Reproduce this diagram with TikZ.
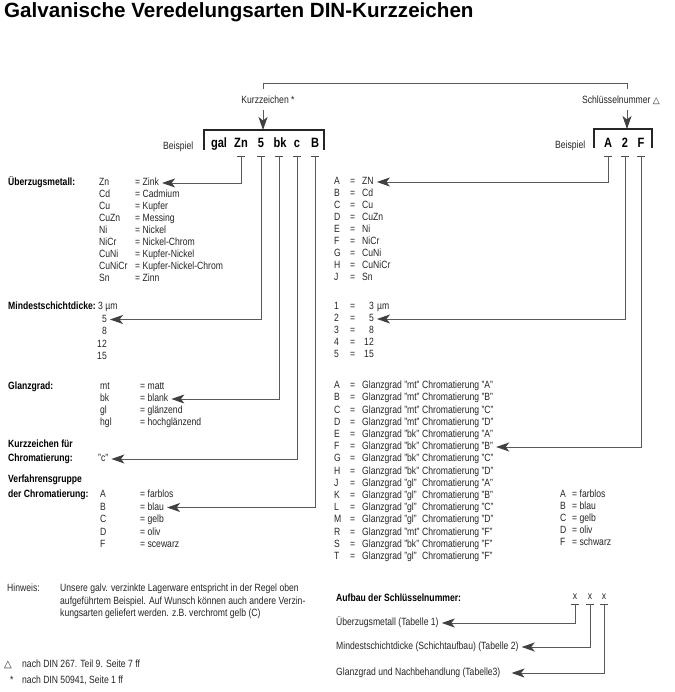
\documentclass[tikz,border=0pt]{standalone}
\usepackage{fontspec}
\setmainfont{Liberation Sans}[FakeStretch=0.82]
\newfontfamily\titlefont{Liberation Sans}
\newfontfamily\symfont{DejaVu Sans}
\usetikzlibrary{arrows.meta}
\newcommand{\fs}{\fontsize{10.5}{12}\selectfont}
\tikzset{
  txt/.style={anchor=west, inner sep=0pt, font=\fs, text=black!85, text height=7.5pt, text depth=2pt},
  lbl/.style={txt, font=\fs\bfseries, text=black},
  code/.style={anchor=base, inner sep=0pt, font=\fontsize{13.5}{15}\selectfont\bfseries, text=black},
  conn/.style={draw=black!65, line width=0.9pt},
  arr/.style={conn, -{Stealth[length=13pt,width=9pt,inset=3.5pt,color=black!75]}, shorten >=3pt},
  brk/.style={draw=black!85, line width=1.7pt},
  tick/.style={draw=black!70, line width=0.8pt}
}
\begin{document}
\begin{tikzpicture}[x=1pt,y=-1pt]
\useasboundingbox[fill=white] (0,0) rectangle (674,692);

% title
\node[anchor=base west, inner sep=0pt, font=\titlefont\bfseries\fontsize{20.6}{24}\selectfont] (title) at (4,18) {Galvanische Veredelungsarten DIN-Kurzzeichen};

% top captions
\node[txt, anchor=center] (kz) at (268,101) {Kurzzeichen *};
\node[txt, anchor=center] (sn) at (621,101) {Schlüsselnummer {\symfont\fontsize{9}{10}\selectfont △}};
\coordinate (kzt) at (263,89);
\coordinate (snt) at (627,89);
\draw[conn] (kzt) -- ++(0,-6) -| (snt);
\coordinate (kzb) at (263,110);
\coordinate (snb) at (627,110);
\coordinate (lbt) at (263,130);
\coordinate (rbt) at (627,129);
\draw[arr, shorten >=0pt] (kzb) -- (lbt);
\draw[arr, shorten >=0pt] (snb) -- (rbt);

% brackets
\draw[brk] (204,150) -- (204,130) -- (324,130) -- (324,150);
\draw[brk] (594,148) -- (594,129) -- (652,129) -- (652,148);

\node[txt] (bsl) at (163,147) {Beispiel};
\node[txt] (bsr) at (555,146) {Beispiel};

% example codes
\node[code] (cgal) at (219,148) {gal};
\node[code] (cZn) at (241,148) {Zn};
\node[code] (c5) at (261,148) {5};
\node[code] (cbk) at (280,148) {bk};
\node[code] (cc) at (297,148) {c};
\node[code] (cB) at (315,148) {B};
\node[code] (cA) at (608,148) {A};
\node[code] (c2) at (625,148) {2};
\node[code] (cF) at (641,148) {F};

\foreach \n/\x in {Zn/241,5/261,bk/279,c/297,B/315,A/608,2/625,F/641}{
  \coordinate (t\n) at (\x,156);
  \draw[tick] (\x-4,156) -- (\x+4,156);
}

% ---------- left tables ----------
\node[lbl] (lUm) at (8,183) {Überzugsmetall:};
\foreach \c/\v [count=\i from 0] in {Zn/Zink,Cd/Cadmium,Cu/Kupfer,CuZn/Messing,Ni/Nickel,NiCr/Nickel-Chrom,CuNi/Kupfer-Nickel,CuNiCr/Kupfer-Nickel-Chrom,Sn/Zinn}{
  \node[txt] (lm\i) at (99,{183+12*\i}) {\c};
  \node[txt] (lmv\i) at (135,{183+12*\i}) {= \v};
}

\node[lbl] (lMs) at (8,307) {Mindestschichtdicke:};
\node[txt] (ld0) at (98,307) {3 µm};
\foreach \v [count=\i] in {5,8,12,15}{
  \node[txt, anchor=east] (ld\i) at (107,{307+12.5*\i}) {\v};
}

\node[lbl] (lGg) at (8,387) {Glanzgrad:};
\foreach \c/\v [count=\i from 0] in {mt/matt,bk/blank,gl/glänzend,hgl/hochglänzend}{
  \node[txt] (lg\i) at (100,{387+12*\i}) {\c};
  \node[txt] (lgv\i) at (140,{387+12*\i}) {= \v};
}

\node[lbl] (lKz1) at (8,445) {Kurzzeichen für};
\node[lbl] (lKz2) at (8,459) {Chromatierung:};
\node[txt] (lkc) at (98,459) {"c"};

\node[lbl] (lVg1) at (8,480) {Verfahrensgruppe};
\node[lbl] (lVg2) at (8,495) {der Chromatierung:};
\foreach \c/\v [count=\i from 0] in {A/farblos,B/blau,C/gelb,D/oliv,F/scewarz}{
  \node[txt] (lv\i) at (100,{495+12.5*\i}) {\c};
  \node[txt] (lvv\i) at (140,{495+12.5*\i}) {= \v};
}

% ---------- right tables ----------
\foreach \c/\v [count=\i from 0] in {A/ZN,B/Cd,C/Cu,D/CuZn,E/Ni,F/NiCr,G/CuNi,H/CuNiCr,J/Sn}{
  \node[txt] (rm\i) at (334,{182+12*\i}) {\c};
  \node[txt] (rme\i) at (350,{182+12*\i}) {=};
  \node[txt] (rmv\i) at (362,{182+12*\i}) {\v};
}

\node[txt] (rn0) at (334,307) {1};
\node[txt] (rne0) at (350,307) {=};
\node[txt, anchor=east] (rnv0) at (374,307) {3};
\node[txt] (rnu0) at (377,307) {µm};
\foreach \v [count=\i] in {5,8,12,15}{
  \pgfmathtruncatemacro{\k}{\i+1}
  \node[txt] (rn\i) at (334,{307+12*\i}) {\k};
  \node[txt] (rne\i) at (350,{307+12*\i}) {=};
  \node[txt, anchor=east] (rnv\i) at (374,{307+12*\i}) {\v};
}

\foreach \c/\g/\h [count=\i from 0] in {A/mt/A,B/mt/B,C/mt/C,D/mt/D,E/bk/A,F/bk/B,G/bk/C,H/bk/D,J/gl/A,K/gl/B,L/gl/C,M/gl/D,R/mt/F,S/bk/F,T/gl/F}{
  \node[txt] (rg\i) at (334,{386+12.2*\i}) {\c};
  \node[txt] (rge\i) at (350,{386+12.2*\i}) {=};
  \node[txt] (rgg\i) at (362,{386+12.2*\i}) {Glanzgrad "\g"};
  \node[txt] (rgc\i) at (422,{386+12.2*\i}) {Chromatierung "\h"};
}

\foreach \c/\v [count=\i from 0] in {A/farblos,B/blau,C/gelb,D/oliv,F/schwarz}{
  \node[txt] (rl\i) at (560,{495+12*\i}) {\c};
  \node[txt] (rlv\i) at (572,{495+12*\i}) {= \v};
}

% ---------- connectors ----------
\draw[arr] (tZn) |- (lmv0.east);
\draw[arr] (t5) |- (ld1.east);
\draw[arr] (tbk) |- (lgv1.east);
\draw[arr] (tc) |- (lkc.east);
\draw[arr] (tB) |- (lvv1.east);
\draw[arr] (tA) |- (rmv0.east);
\draw[arr] (t2) |- (rnv1.east);
\draw[arr] (tF) |- (rgc5.east);

% ---------- bottom ----------
\node[txt] (hw) at (7,589) {Hinweis:};
\node[txt] (hw1) at (60,589) {Unsere galv. verzinkte Lagerware entspricht in der Regel oben};
\node[txt] (hw2) at (60,602) {aufgeführtem Beispiel. Auf Wunsch können auch andere Verzin-};
\node[txt] (hw3) at (60,614) {kungsarten geliefert werden. z.B. verchromt gelb (C)};

\node[txt] (fn1s) at (4,665) {{\symfont\fontsize{10}{11}\selectfont △}};
\node[txt] (fn1) at (22,665) {nach DIN 267. Teil 9. Seite 7 ff};
\node[txt] (fn2s) at (10,681) {*};
\node[txt] (fn2) at (22,681) {nach DIN 50941, Seite 1 ff};

\node[lbl] (af) at (336,599) {Aufbau der Schlüsselnummer:};
\node[txt, anchor=center] (x1) at (575,597) {x};
\node[txt, anchor=center] (x2) at (590,597) {x};
\node[txt, anchor=center] (x3) at (604,597) {x};
\foreach \n/\x in {1/575,2/590,3/604}{
  \coordinate (xt\n) at (\x,604);
  \draw[tick] (\x-4,604) -- (\x+4,604);
}
\node[txt] (b1) at (336,623) {Überzugsmetall (Tabelle 1)};
\node[txt] (b2) at (336,647) {Mindestschichtdicke (Schichtaufbau) (Tabelle 2)};
\node[txt] (b3) at (336,673) {Glanzgrad und Nachbehandlung (Tabelle3)};
\draw[arr] (xt1) |- (b1.east);
\draw[arr] (xt2) |- (b2.east);
\draw[arr] (xt3) |- ([xshift=8pt]b3.east);
\end{tikzpicture}
\end{document}
